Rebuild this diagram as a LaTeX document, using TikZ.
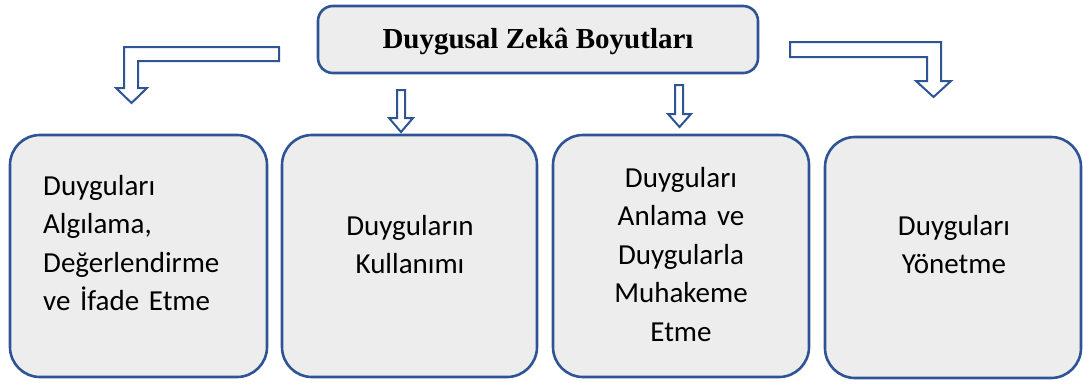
\documentclass[tikz,border=0pt]{standalone}
\usepackage{fontspec}
\setmainfont{Carlito}[WordSpace={0.85,0,0}]
\newfontfamily\titlefont{Liberation Serif}
\definecolor{edgeblue}{HTML}{2F5496}
\definecolor{boxgray}{HTML}{EDEDED}
\begin{document}
\begin{tikzpicture}[x=1pt,y=-1pt,
  dimbox/.style={draw=edgeblue,fill=boxgray,line width=2.6pt,rounded corners=30pt,inner sep=0pt,rectangle},
  titlebox/.style={draw=edgeblue,fill=boxgray,line width=2.6pt,rounded corners=15pt,inner sep=0pt,rectangle,minimum width=440pt,minimum height=67pt},
  bodytext/.style={inner sep=0pt,text width=220pt,font=\fontsize{29pt}{38.5pt}\selectfont},
  blockarrow/.style={draw=edgeblue,fill=white,line width=2pt,line join=miter}]
\useasboundingbox (0,0) rectangle (1083,383);
% top box
\node[titlebox] (top) at (538,39.5) {};
\node[inner sep=0pt,anchor=base,font=\titlefont\bfseries\fontsize{29pt}{34pt}\selectfont] (toptext) at (538,48) {Duygusal Zekâ Boyutları};
% lower boxes
\node[dimbox,minimum width=257pt,minimum height=242pt] (b1) at (138.5,256) {};
\node[dimbox,minimum width=255pt,minimum height=242pt] (b2) at (409.5,256) {};
\node[dimbox,minimum width=256pt,minimum height=242pt] (b3) at (681,256) {};
\node[dimbox,minimum width=256pt,minimum height=241pt] (b4) at (953,257.5) {};
% texts
\node[bodytext,align=left,anchor=base west] (t1) at (43,195) {Duyguları\\Algılama,\\Değerlendirme\\ve İfade Etme};
\node[bodytext,align=center,anchor=base] (t2) at (410,235) {Duyguların\\Kullanımı};
\node[bodytext,align=center,anchor=base] (t3) at (681,187) {Duyguları\\Anlama ve\\Duygularla\\Muhakeme\\Etme};
\node[bodytext,align=center,anchor=base] (t4) at (954,235) {Duyguları\\Yönetme};
% block arrows
\draw[blockarrow] (279,47) -- (124,47) -- (124,88) -- (116,88) -- (131.5,103) -- (147,88) -- (138,88) -- (138,61) -- (279,61) -- cycle;
\draw[blockarrow] (790,42) -- (941,42) -- (941,81) -- (951,81) -- (933.5,97) -- (916,81) -- (927,81) -- (927,57) -- (790,57) -- cycle;
\draw[blockarrow] (397,90) -- (405,90) -- (405,118) -- (413,118) -- (401,132) -- (389,118) -- (397,118) -- cycle;
\draw[blockarrow] (675,85) -- (683,85) -- (683,114) -- (691,114) -- (679.5,127) -- (668,114) -- (675,114) -- cycle;
\end{tikzpicture}
\end{document}
